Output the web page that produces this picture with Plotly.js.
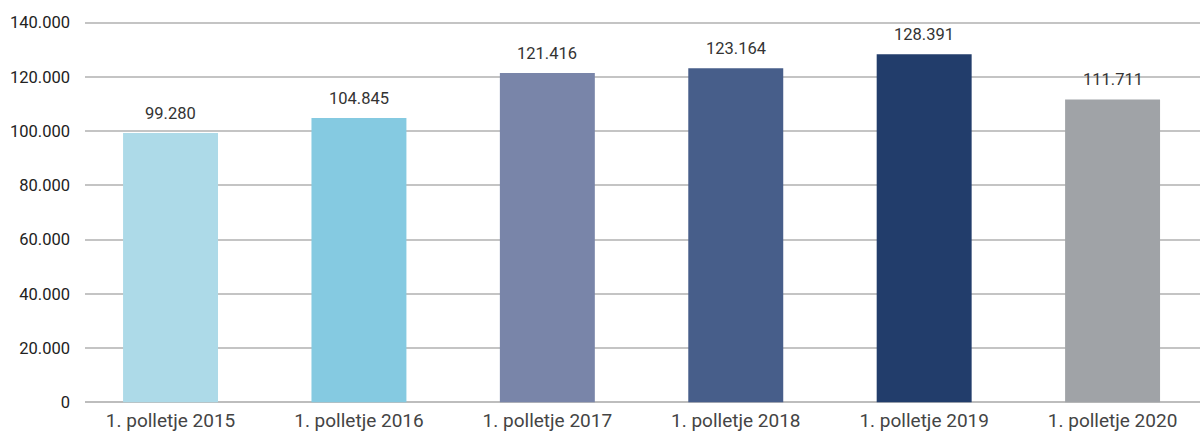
<!DOCTYPE html>
<html>
<head>
<meta charset="utf-8">
<script src="https://cdn.plot.ly/plotly-3.0.1.min.js"></script>
<style>html,body{margin:0;padding:0;background:#fff;}#chart{width:1200px;height:433px;}</style>
</head>
<body>
<div id="chart"></div>
<script>
const categories = ["1. polletje 2015", "1. polletje 2016", "1. polletje 2017", "1. polletje 2018", "1. polletje 2019", "1. polletje 2020"];
const values = [99280, 104845, 121416, 123164, 128391, 111711];
const labels = ["99.280", "104.845", "121.416", "123.164", "128.391", "111.711"];
const colors = ["#ADDAE8", "#85CAE1", "#7985A9", "#475E8A", "#223D6B", "#A0A3A7"];
const tickVals = [0, 20000, 40000, 60000, 80000, 100000, 120000, 140000];
const tickText = ["0", "20.000", "40.000", "60.000", "80.000", "100.000", "120.000", "140.000"];

const trace = {
  type: "bar",
  x: categories,
  y: values,
  marker: {color: colors},
  width: 0.504,
  hoverinfo: "none"
};

const annotations = categories.map((c, i) => ({
  x: c, y: values[i], text: labels[i], showarrow: false,
  yanchor: "middle", yshift: 20,
  font: {family: "Roboto, sans-serif", size: 16.5, color: "#333"}
}));

const layout = {
  width: 1200, height: 433,
  margin: {l: 85, r: 0, t: 20, b: 28, pad: 0},
  paper_bgcolor: "#fff", plot_bgcolor: "#fff",
  showlegend: false,
  font: {family: "Roboto, sans-serif"},
  xaxis: {
    type: "category",
    range: [-0.454, 5.464],
    showgrid: false, zeroline: false, showline: false,
    ticks: "",
    ticklabelstandoff: 2,
    tickfont: {family: "Roboto, sans-serif", size: 19, color: "#444"},
    fixedrange: true
  },
  yaxis: {
    range: [-1000, 141000],
    tickvals: tickVals, ticktext: tickText,
    showgrid: true, gridcolor: "#C4C4C4", gridwidth: 2,
    zeroline: true, zerolinecolor: "#BDBDBD", zerolinewidth: 2,
    showline: false, ticks: "",
    ticklabelstandoff: 14,
    tickfont: {family: "Roboto, sans-serif", size: 16.5, color: "#222"},
    fixedrange: true
  },
  annotations: annotations
};

Plotly.newPlot("chart", [trace], layout, {displayModeBar: false, staticPlot: true});
</script>
</body>
</html>
